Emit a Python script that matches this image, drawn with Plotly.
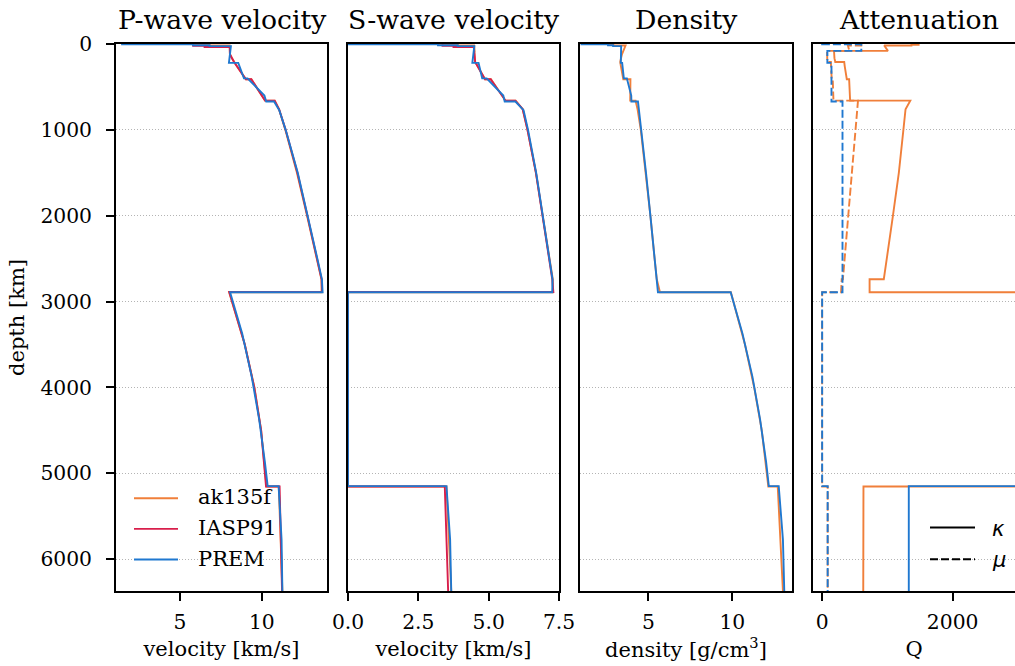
import plotly.graph_objects as go

# ---------------- data ----------------
# PREM (isotropic)
prem_depth = [0, 3, 3, 15, 15, 24.4, 24.4, 80, 80, 220, 220, 400, 400, 600, 670, 670, 771, 1000, 1500,
              2000, 2500, 2741, 2891, 2891, 3371, 3871, 4371, 4871, 5149.5, 5149.5, 5771, 6371]
prem_vp = [1.45, 1.45, 5.8, 5.8, 6.8, 6.8, 8.11, 8.08, 8.08, 7.99, 8.56, 8.91, 9.13, 10.16, 10.27, 10.75, 11.07,
           11.46, 12.20, 12.82, 13.40, 13.68, 13.72, 8.06, 8.80, 9.38, 9.84, 10.19, 10.36, 11.03, 11.21, 11.26]
prem_vs = [0, 0, 3.2, 3.2, 3.9, 3.9, 4.49, 4.47, 4.47, 4.42, 4.64, 4.77, 4.93, 5.52, 5.57, 5.95, 6.24,
           6.40, 6.69, 6.93, 7.16, 7.27, 7.26, 0, 0, 0, 0, 0, 0, 3.50, 3.63, 3.67]
prem_rho = [1.02, 1.02, 2.6, 2.6, 2.9, 2.9, 3.38, 3.37, 3.37, 3.36, 3.44, 3.54, 3.72, 3.98, 3.99, 4.38, 4.44,
            4.58, 4.86, 5.12, 5.37, 5.49, 5.57, 9.90, 10.60, 11.19, 11.65, 12.01, 12.17, 12.76, 13.01, 13.09]
prem_qk = [57823] * 29 + [1327.7, 1327.7, 1327.7]
prem_qmu = [0, 0, 600, 600, 600, 600, 600, 600, 80, 80, 143, 143, 143, 143, 143, 312, 312, 312, 312,
            312, 312, 312, 312, 0, 0, 0, 0, 0, 0, 84.6, 84.6, 84.6]

# IASP91
iasp_depth = [0, 20, 20, 35, 35, 120, 210, 410, 410, 660, 660, 760, 1000, 1500, 2000, 2500, 2740, 2889,
              2889, 3500, 4000, 4500, 5153.9, 5153.9, 6371]
iasp_vp = [5.8, 5.8, 6.5, 6.5, 8.04, 8.05, 8.30, 9.03, 9.36, 10.20, 10.79, 11.06, 11.46, 12.18, 12.79, 13.37,
           13.66, 13.69, 8.01, 8.96, 9.54, 9.96, 10.26, 11.09, 11.24]
iasp_vs = [3.36, 3.36, 3.75, 3.75, 4.47, 4.50, 4.52, 4.87, 5.07, 5.60, 5.95, 6.21, 6.38, 6.68, 6.92, 7.15,
           7.26, 7.30, 0, 0, 0, 0, 0, 3.44, 3.56]

# ak135f
ak_depth = [0, 10, 10, 18, 18, 43, 80, 80, 120, 165, 210, 210, 260, 310, 360, 410, 410,
            460, 510, 560, 610, 660, 660, 710, 760, 1000, 1500, 2000, 2500, 2740, 2740, 2891.5, 2891.5,
            3500, 4000, 4500, 5153.5, 5153.5, 6371]
ak_vp = [5.8, 5.8, 6.8, 6.8, 8.036, 8.038, 8.04, 8.045, 8.051, 8.175, 8.301, 8.301,
         8.482, 8.665, 8.848, 9.030, 9.36, 9.528, 9.696, 9.864, 10.032, 10.20, 10.79, 10.923, 11.056, 11.44,
         12.15, 12.77, 13.35, 13.65, 13.65, 13.66, 8.00, 8.96, 9.55, 9.96, 10.29, 11.04, 11.26]
ak_vs = [3.2, 3.2, 3.9, 3.9, 4.484, 4.50, 4.50, 4.49, 4.50, 4.509, 4.518, 4.518, 4.609,
         4.696, 4.783, 4.870, 5.081, 5.18, 5.29, 5.39, 5.50, 5.60, 5.96, 6.09, 6.21, 6.38, 6.68, 6.92, 7.15,
         7.28, 7.28, 7.28, 0, 0, 0, 0, 0, 3.50, 3.67]
ak_rho = [2.6, 2.6, 2.92, 2.92, 3.641, 3.580, 3.502, 3.502, 3.427, 3.371, 3.324,
          3.324, 3.366, 3.411, 3.458, 3.507, 3.932, 3.927, 3.923, 3.922, 3.921, 3.920, 4.239, 4.299, 4.357,
          4.55, 4.85, 5.12, 5.37, 5.50, 5.50, 5.69, 9.91, 10.75, 11.30, 11.75, 12.14, 12.70, 13.01]
ak_qk = [1478.3, 1478.3, 1368.0, 1368.0, 950.5, 972.8, 1008.7, 182.0, 182.6,
         188.7, 201.0, 338.5, 346.4, 355.9, 366.3, 377.9, 413.7, 417.3, 419.9, 422.6, 425.3, 428.7, 1350.5,
         1311.2, 1277.9, 1245, 1175, 1085, 990, 945, 727, 727, 57822, 57822, 57822, 57822, 57822, 633.3,
         629.9]
ak_qmu = [600, 600, 600, 600, 394.6, 403.9, 417.6, 75.6, 76.1, 76.6, 79.4, 133.7, 136.4,
          139.4, 142.8, 146.6, 162.5, 164.9, 166.8, 168.8, 170.8, 173.5, 549.5, 543.5, 537.6, 510, 455, 400,
          345, 318, 300, 290, 0, 0, 0, 0, 0, 85.0, 85.0]

model_names = ["ak135f", "IASP91", "PREM"]
model_colors = ["#f07f3a", "#d81e4b", "#1f78d0"]
q_names = ["<i>κ</i>", "<i>μ</i>"]

panel_titles = ["P-wave velocity", "S-wave velocity", "Density", "Attenuation"]
x_titles = ["velocity [km/s]", "velocity [km/s]", "density [g/cm<sup>3</sup>]", "Q"]
x_ranges = [[1.08, 13.99], [0, 7.5], [0.93, 13.55], [-140, 2955]]
x_tickvals = [[5, 10], [0, 2.5, 5, 7.5], [5, 10], [0, 2000]]
x_ticktext = [["5", "10"], ["0.0", "2.5", "5.0", "7.5"], ["5", "10"], ["0", "2000"]]
depth_ticks = [0, 1000, 2000, 3000, 4000, 5000, 6000]
depth_range = [6371, 0]

# ---------------- layout helpers ----------------
W, H = 1015, 666
MT, MB = 44, 75
PH = H - MT - MB
doms_px = [(116, 327), (348, 559), (580, 792), (813, 1015)]
title_centers_px = [221.5, 453.5, 686, 918.5]
FONT = "DejaVu Serif"
LW = 1.9
DASH = "8px,3px"
TICK_SIZE = 20.3
LABEL_SIZE = 21
TITLE_SIZE = 26.7


def py(ypx):
    return (H - MB - ypx) / PH


fig = go.Figure()


def add(x, y, panel, color, dash="solid"):
    ax = "" if panel == 1 else str(panel)
    fig.add_trace(go.Scatter(
        x=x, y=y, mode="lines", xaxis="x" + ax, yaxis="y" + ax,
        line=dict(color=color, width=LW, dash=dash), showlegend=False, hoverinfo="skip"))


# P-wave
add(ak_vp, ak_depth, 1, model_colors[0])
add(iasp_vp, iasp_depth, 1, model_colors[1])
add(prem_vp, prem_depth, 1, model_colors[2])
# S-wave
add(ak_vs, ak_depth, 2, model_colors[0])
add(iasp_vs, iasp_depth, 2, model_colors[1])
add(prem_vs, prem_depth, 2, model_colors[2])
# Density
add(ak_rho, ak_depth, 3, model_colors[0])
add(prem_rho, prem_depth, 3, model_colors[2])
# Attenuation
add(ak_qk, ak_depth, 4, model_colors[0])
add(ak_qmu, ak_depth, 4, model_colors[0], dash=DASH)
add(prem_qk, prem_depth, 4, model_colors[2])
add(prem_qmu, prem_depth, 4, model_colors[2], dash=DASH)

layout = dict(
    width=W, height=H, margin=dict(l=0, r=0, t=MT, b=MB, pad=0, autoexpand=False),
    paper_bgcolor="white", plot_bgcolor="white",
    font=dict(family=FONT, size=TICK_SIZE, color="black"),
    showlegend=False,
)

for i in range(4):
    ax = "" if i == 0 else str(i + 1)
    x0, x1 = doms_px[i]
    last = i == 3
    layout["xaxis" + ax] = dict(
        domain=[x0 / W, x1 / W], range=x_ranges[i], anchor="y" + ax, automargin=False,
        tickvals=x_tickvals[i], ticktext=x_ticktext[i], ticks="outside", ticklen=8, tickwidth=1.5,
        tickcolor="black", showline=True, linecolor="black", linewidth=1.8, mirror=True,
        showgrid=False, zeroline=False, ticklabelstandoff=4,
        tickfont=dict(family=FONT, size=TICK_SIZE, color="black"),
        title=dict(text=x_titles[i], font=dict(family=FONT, size=LABEL_SIZE, color="black"), standoff=8))
    layout["yaxis" + ax] = dict(
        domain=[0, 1], range=depth_range, anchor="x" + ax, automargin=False,
        tickvals=depth_ticks, ticktext=[str(t) for t in depth_ticks],
        ticks="outside" if i == 0 else "", ticklen=8, tickwidth=1.5, tickcolor="black",
        showticklabels=(i == 0), showline=True, linecolor="black", linewidth=1.8,
        mirror=(not last), showgrid=True, gridcolor="#b4b4b4", gridwidth=1, griddash="1px,2px",
        zeroline=False, ticklabelstandoff=10,
        tickfont=dict(family=FONT, size=TICK_SIZE, color="black"))
    if i > 0:
        layout["yaxis" + ax]["matches"] = "y"
layout["yaxis"]["title"] = dict(text="depth [km]", font=dict(family=FONT, size=LABEL_SIZE, color="black"),
                                standoff=10)

annotations = []
shapes = []
for i in range(4):
    annotations.append(dict(text=panel_titles[i], x=title_centers_px[i] / W, y=py(19),
                            xref="paper", yref="paper", xanchor="center", yanchor="middle",
                            showarrow=False, font=dict(family=FONT, size=TITLE_SIZE, color="black")))

# model legend (inside the P-wave panel)
for k, (nm, col) in enumerate(zip(model_names, model_colors)):
    yk = 498.3 + k * 30.6
    shapes.append(dict(type="line", xref="paper", yref="paper", x0=134 / W, x1=178 / W,
                       y0=py(yk), y1=py(yk), line=dict(color=col, width=LW)))
    annotations.append(dict(text=nm, x=196 / W, y=py(yk - 1), xref="paper", yref="paper",
                            xanchor="left", yanchor="middle", showarrow=False,
                            font=dict(family=FONT, size=LABEL_SIZE, color="black")))

# kappa / mu legend (inside the attenuation panel)
for k, (nm, dsh) in enumerate(zip(q_names, ["solid", DASH])):
    yk = 527.5 + k * 31.8
    shapes.append(dict(type="line", xref="paper", yref="paper", x0=930 / W, x1=975 / W,
                       y0=py(yk), y1=py(yk), line=dict(color="black", width=LW, dash=dsh)))
    annotations.append(dict(text=nm, x=990 / W, y=py(yk + 1), xref="paper", yref="paper",
                            xanchor="left", yanchor="middle", showarrow=False,
                            font=dict(family="DejaVu Sans", size=LABEL_SIZE, color="black")))

layout["annotations"] = annotations
layout["shapes"] = shapes

fig.update_layout(**layout)
fig.write_html("out.html")
